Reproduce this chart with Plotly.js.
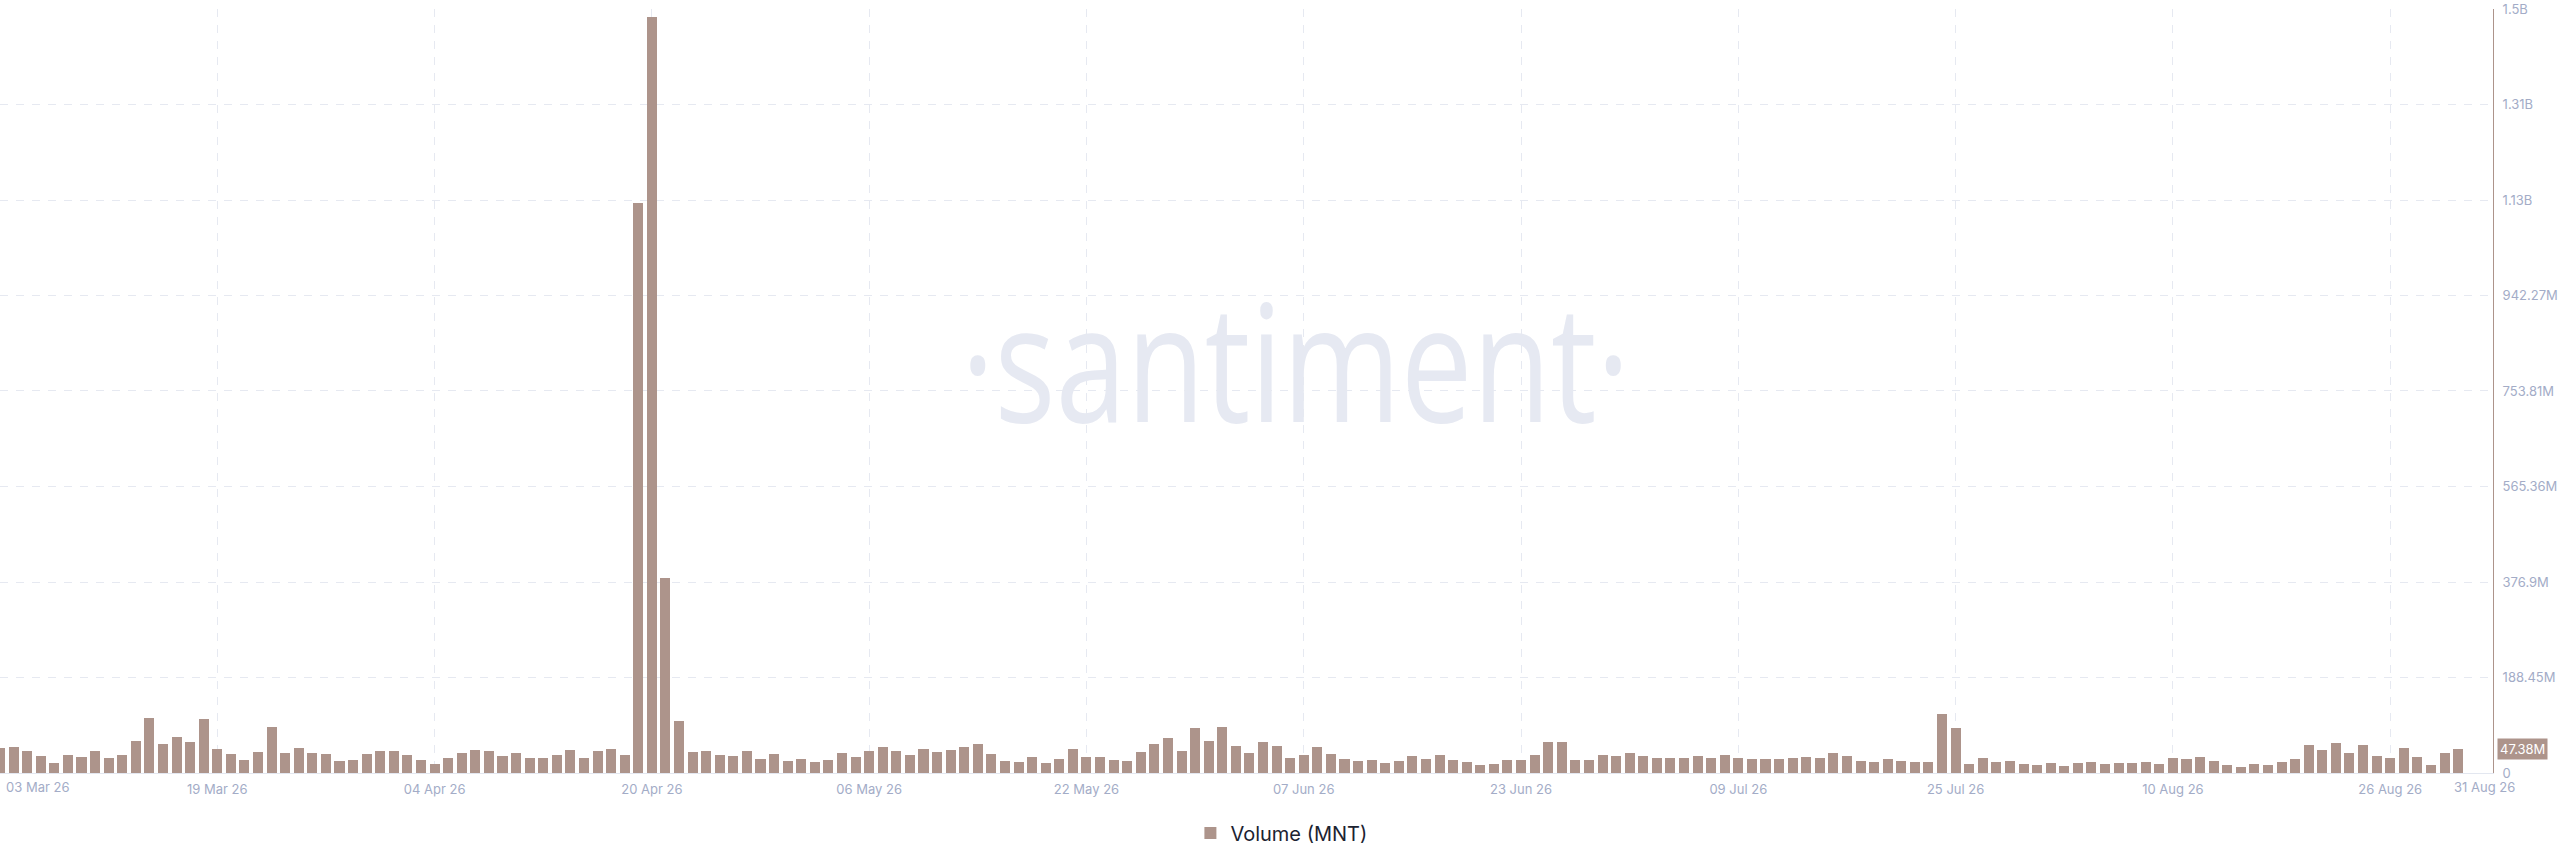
<!DOCTYPE html>
<html>
<head>
<meta charset="utf-8">
<script src="https://cdn.plot.ly/plotly-3.0.1.min.js"></script>
<style>
  html, body { margin: 0; padding: 0; background: #ffffff; }
  #wrap { position: relative; width: 2560px; height: 867px; }
  #wm { position: absolute; left: 0; top: 0; z-index: 0; }
  #chart { position: absolute; left: 0; top: 0; width: 2560px; height: 867px; z-index: 1; }
</style>
</head>
<body>
<div id="wrap">
  <svg id="wm" width="2560" height="867">
    <text x="961" y="422" textLength="669" lengthAdjust="spacingAndGlyphs"
          font-family="Open Sans" font-size="163" fill="#e6e9f2">·santiment·</text>
  </svg>
  <div id="chart"></div>
</div>
<script>
// Daily trading volume (MNT), in millions, 03 Mar 26 .. 31 Aug 26
const startDate = '2026-03-03';
const volMar = [48.7, 50.6, 43.4, 32.9, 19.7, 34.9, 30.9, 42.8, 30.3, 36.2, 63.8, 109.2, 56.6, 70.4, 60.5,
                105.9, 48.0, 38.2, 25.0, 42.1, 90.8, 39.5, 49.3, 38.8, 37.5, 23.7, 25.0, 37.5, 42.8];
const volApr = [42.8, 35.5, 26.3, 18.4, 28.9, 38.8, 44.7, 42.8, 32.9, 39.5, 30.3, 28.9, 35.5, 46.0, 30.3,
                44.1, 46.7, 34.9, 1125.4, 1492.0, 385.4, 102.0, 40.8, 43.4, 35.5, 33.5, 44.1, 27.0, 37.5, 24.3];
const volMay = [27.0, 21.0, 25.0, 40.1, 32.2, 42.8, 50.6, 44.1, 36.2, 47.4, 40.8, 44.7, 52.0, 57.9, 38.2,
                23.7, 21.7, 30.9, 19.7, 27.6, 48.0, 32.2, 31.6, 25.0, 23.7, 41.4, 57.2, 68.4, 43.4, 89.5, 62.5];
const volJun = [90.8, 53.9, 38.8, 60.5, 53.3, 30.3, 34.9, 52.0, 37.5, 27.0, 23.0, 25.7, 19.1, 23.7, 33.5,
                27.6, 34.9, 25.0, 21.7, 15.8, 18.4, 26.3, 25.0, 35.5, 60.5, 61.8, 25.7, 25.0, 35.5, 32.9];
const volJul = [39.5, 32.9, 30.3, 30.3, 29.6, 33.5, 30.3, 35.5, 30.3, 28.3, 27.6, 27.0, 29.6, 32.2, 30.3,
                38.8, 33.5, 23.7, 21.7, 27.0, 23.0, 22.4, 22.4, 117.1, 88.1, 17.1, 28.9, 22.4, 24.3, 17.1, 16.4];
const volAug = [19.7, 13.8, 19.1, 21.7, 17.8, 19.1, 19.7, 21.7, 17.8, 29.6, 27.0, 31.6, 23.7, 15.8, 12.5,
                17.1, 16.4, 21.0, 27.0, 55.3, 45.4, 59.2, 39.5, 55.3, 33.5, 28.9, 49.3, 30.9, 15.8, 39.5, 47.38];

const tickDates  = ['2026-03-03', '2026-03-19', '2026-04-04', '2026-04-20', '2026-05-06', '2026-05-22',
                    '2026-06-07', '2026-06-23', '2026-07-09', '2026-07-25', '2026-08-10', '2026-08-26'];
const tickLabels = ['', '19 Mar 26', '04 Apr 26', '20 Apr 26', '06 May 26', '22 May 26',
                    '07 Jun 26', '23 Jun 26', '09 Jul 26', '25 Jul 26', '10 Aug 26', '26 Aug 26'];
const yTickVals  = [0, 188.45, 376.9, 565.36, 753.81, 942.27, 1130.7, 1319.2, 1507.6];
const yTickText  = ['0', '188.45M', '376.9M', '565.36M', '753.81M', '942.27M', '1.13B', '1.31B', '1.5B'];
const firstLabel = '03 Mar 26';
const lastLabel  = '31 Aug 26';
const lastValueLabel = '47.38M';

const volumeM = [].concat(volMar, volApr, volMay, volJun, volJul, volAug);
const volume = volumeM.map(v => v * 1e6);
const dates = [];
{
  const d0 = new Date(startDate + 'T00:00:00Z');
  for (let i = 0; i < volume.length; i++) {
    const d = new Date(d0.getTime() + i * 86400000);
    dates.push(d.toISOString().slice(0, 10));
  }
}

const barColor = '#ad948b';
const tickColor = '#a3acc7';
const gridColor = '#e6e9f1';
const fontFam = 'Inter, Roboto, sans-serif';

const trace = {
  type: 'bar',
  x: dates,
  y: volume,
  name: 'Volume (MNT)',
  width: 0.74 * 86400000,
  marker: { color: barColor, line: { width: 0 } },
  hoverinfo: 'skip'
};

const layout = {
  width: 2560,
  height: 867,
  margin: { l: 0, r: 67, t: 9, b: 94 },
  paper_bgcolor: 'rgba(0,0,0,0)',
  plot_bgcolor: 'rgba(0,0,0,0)',
  bargap: 0,
  showlegend: true,
  legend: {
    orientation: 'h',
    x: 0.514, xanchor: 'center',
    y: -0.0785, yanchor: 'middle',
    font: { family: fontFam, size: 20, color: '#1c2331' }
  },
  xaxis: {
    type: 'date',
    range: ['2026-03-03 00:00', '2026-09-02 13:40'],
    tickmode: 'array',
    tickvals: tickDates,
    ticktext: tickLabels,
    tickfont: { family: fontFam, size: 13, color: tickColor },
    ticks: '',
    ticklabelstandoff: 4,
    showgrid: true,
    gridcolor: gridColor,
    griddash: '8px,8px',
    gridwidth: 1,
    showline: true,
    linecolor: '#e3e7f0',
    linewidth: 1,
    zeroline: false,
    fixedrange: true
  },
  yaxis: {
    side: 'right',
    range: [0, 1507.6e6],
    tickmode: 'array',
    tickvals: yTickVals.map(v => v * 1e6),
    ticktext: yTickText,
    tickfont: { family: fontFam, size: 13, color: tickColor },
    ticks: '',
    ticklabelstandoff: 6,
    showgrid: true,
    gridcolor: gridColor,
    griddash: '8px,8px',
    gridwidth: 1,
    showline: true,
    linecolor: barColor,
    linewidth: 1,
    zeroline: false,
    fixedrange: true
  },
  annotations: [
    { xref: 'paper', yref: 'paper', x: 0, y: 0, xanchor: 'left', yanchor: 'top',
      yshift: -4, xshift: 4, showarrow: false, text: firstLabel,
      font: { family: fontFam, size: 13, color: tickColor } },
    { xref: 'paper', yref: 'paper', x: 1, y: 0, xanchor: 'right', yanchor: 'top',
      yshift: -4, xshift: 24, showarrow: false, text: lastLabel,
      font: { family: fontFam, size: 13, color: tickColor } },
    { xref: 'paper', yref: 'y', x: 1, y: volume[volume.length - 1], xanchor: 'left', yanchor: 'middle',
      xshift: 4, showarrow: false, text: lastValueLabel, bgcolor: barColor, borderpad: 2,
      font: { family: fontFam, size: 13, color: '#ffffff' } }
  ]
};

Plotly.newPlot('chart', [trace], layout, { displayModeBar: false, staticPlot: true });
</script>
</body>
</html>
